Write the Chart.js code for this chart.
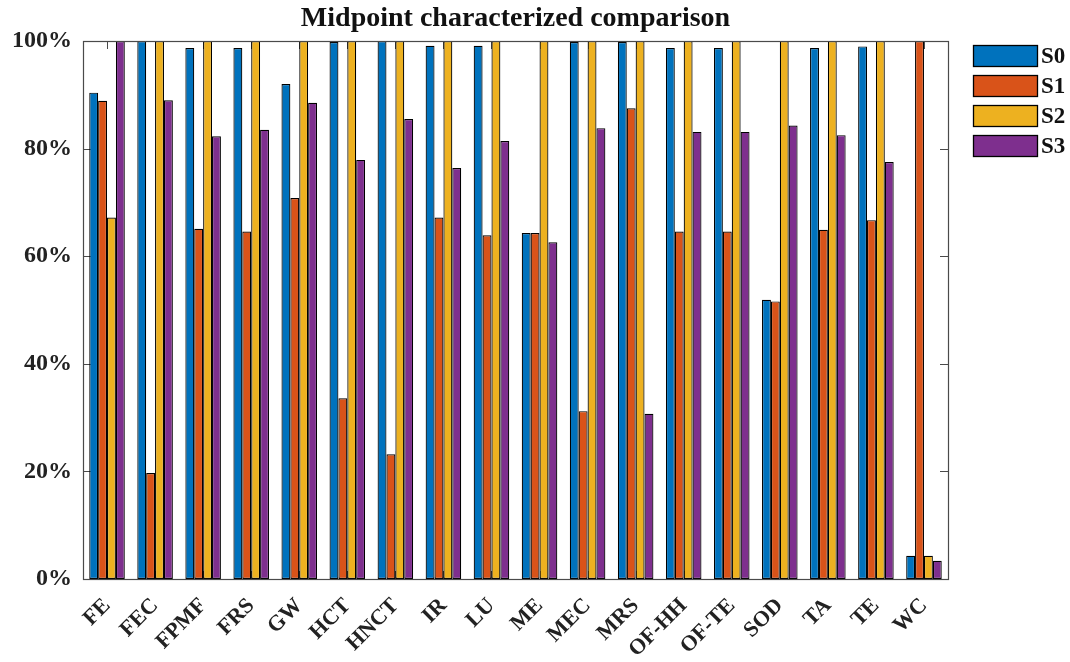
<!DOCTYPE html>
<html>
<head>
<meta charset="utf-8">
<script src="https://cdn.jsdelivr.net/npm/chart.js@4/dist/chart.umd.min.js"></script>
<style>
  html, body { margin: 0; padding: 0; background: #ffffff; }
  #wrap { width: 1070px; height: 662px; }
</style>
</head>
<body>
<div id="wrap"><canvas id="c" width="1070" height="662"></canvas></div>
<script>
// Impact categories and the share of each scenario (percent of the largest)
const categories = ['FE','FEC','FPMF','FRS','GW','HCT','HNCT','IR','LU','ME','MEC','MRS','OF-HH','OF-TE','SOD','TA','TE','WC'];
const seriesNames = ['S0','S1','S2','S3'];
const s0 = [90.4, 100, 98.7, 98.7, 92.0, 99.8, 100, 99.1, 99.1, 64.3, 99.8, 99.8, 98.7, 98.7, 51.9, 98.7, 99.0, 4.3];
const s1 = [88.9, 19.7, 65.1, 64.6, 70.8, 33.6, 23.2, 67.2, 63.9, 64.3, 31.2, 87.5, 64.6, 64.6, 51.6, 64.9, 66.7, 100];
const s2 = [67.2, 100, 100, 100, 100, 100, 100, 100, 100, 100, 100, 100, 100, 100, 100, 100, 100, 4.3];
const s3 = [100, 89.0, 82.3, 83.5, 88.5, 77.9, 85.5, 76.4, 81.4, 62.6, 83.8, 30.7, 83.1, 83.1, 84.3, 82.5, 77.5, 3.4];
const yTicks = [0, 20, 40, 60, 80, 100];

const colors = ['#0072BD', '#D95319', '#EDB120', '#7E2F8E'];
const serif = '"Liberation Serif", "Times New Roman", serif';
const axisColor = '#4a4a4a';

// Box around the axes plus short inward ticks on all four sides
const axesBox = {
  id: 'axesBox',
  beforeDatasetsDraw(chart) {
    const { ctx, chartArea: a, scales } = chart;
    ctx.save();
    ctx.strokeStyle = axisColor;
    ctx.lineWidth = 1;
    ctx.beginPath();
    const tl = 8;
    scales.x.ticks.forEach((t, i) => {
      const x = Math.round(scales.x.getPixelForTick(i)) + 0.5;
      ctx.moveTo(x, a.top); ctx.lineTo(x, a.top + tl);
      ctx.moveTo(x, a.bottom); ctx.lineTo(x, a.bottom - tl);
    });
    yTicks.forEach(v => {
      const y = Math.round(scales.y.getPixelForValue(v)) + 0.5;
      ctx.moveTo(a.left, y); ctx.lineTo(a.left + tl, y);
      ctx.moveTo(a.right, y); ctx.lineTo(a.right - tl, y);
    });
    ctx.stroke();
    ctx.restore();
  },
  afterDatasetsDraw(chart) {
    const { ctx, chartArea: a } = chart;
    ctx.save();
    ctx.strokeStyle = axisColor;
    ctx.lineWidth = 1.2;
    ctx.strokeRect(Math.round(a.left) + 0.5, Math.round(a.top) + 0.5,
                   Math.round(a.right - a.left), Math.round(a.bottom - a.top));
    ctx.restore();
  }
};

// Legend to the right of the axes: wide swatches with bold labels
const sideLegend = {
  id: 'sideLegend',
  afterDraw(chart) {
    const { ctx, chartArea: a } = chart;
    const x0 = a.right + 25, y0 = a.top + 4, w = 65, h = 22, step = 30;
    ctx.save();
    chart.data.datasets.forEach((ds, i) => {
      const y = y0 + i * step;
      ctx.fillStyle = ds.backgroundColor;
      ctx.fillRect(x0, y, w, h);
      ctx.strokeStyle = '#000';
      ctx.lineWidth = 1.3;
      ctx.strokeRect(x0 + 0.5, y + 0.5, w - 1, h - 1);
      ctx.fillStyle = '#111';
      ctx.font = 'bold 23px ' + serif;
      ctx.textBaseline = 'middle';
      ctx.textAlign = 'left';
      ctx.fillText(ds.label, x0 + w + 3, y + h / 2 + 1);
    });
    ctx.restore();
  }
};

const seriesValues = [s0, s1, s2, s3];

new Chart(document.getElementById('c'), {
  type: 'bar',
  data: {
    labels: categories,
    datasets: seriesNames.map((name, i) => ({
      label: name,
      data: seriesValues[i],
      backgroundColor: colors[i],
      borderColor: '#000000',
      borderWidth: 1.2,
      borderSkipped: false,
      categoryPercentage: 0.74,
      barPercentage: 1.0
    }))
  },
  options: {
    responsive: false,
    animation: false,
    layout: { padding: { left: 0, right: 122, top: 0, bottom: 0 } },
    plugins: {
      legend: { display: false },
      tooltip: { enabled: false },
      title: {
        display: true,
        text: 'Midpoint characterized comparison',
        fullSize: false,
        color: '#111',
        font: { family: serif, size: 28, weight: 'bold', lineHeight: 1.2 },
        padding: { top: 2, bottom: 5.4 }
      }
    },
    scales: {
      x: {
        grid: { display: false, drawTicks: false },
        border: { display: false },
        ticks: {
          color: '#222',
          font: { family: serif, size: 22, weight: 'bold' },
          minRotation: 45,
          maxRotation: 45,
          padding: 14,
          autoSkip: false
        },
        afterFit(scale) { scale.height = 83; }
      },
      y: {
        min: 0,
        max: 100,
        grid: { display: false, drawTicks: false },
        border: { display: false },
        afterBuildTicks(scale) { scale.ticks = yTicks.map(v => ({ value: v })); },
        ticks: {
          color: '#222',
          font: { family: serif, size: 24, weight: 'bold' },
          padding: 11,
          callback: v => v + '%'
        },
        afterFit(scale) { scale.width = 83; }
      }
    }
  },
  plugins: [axesBox, sideLegend]
});
</script>
</body>
</html>
